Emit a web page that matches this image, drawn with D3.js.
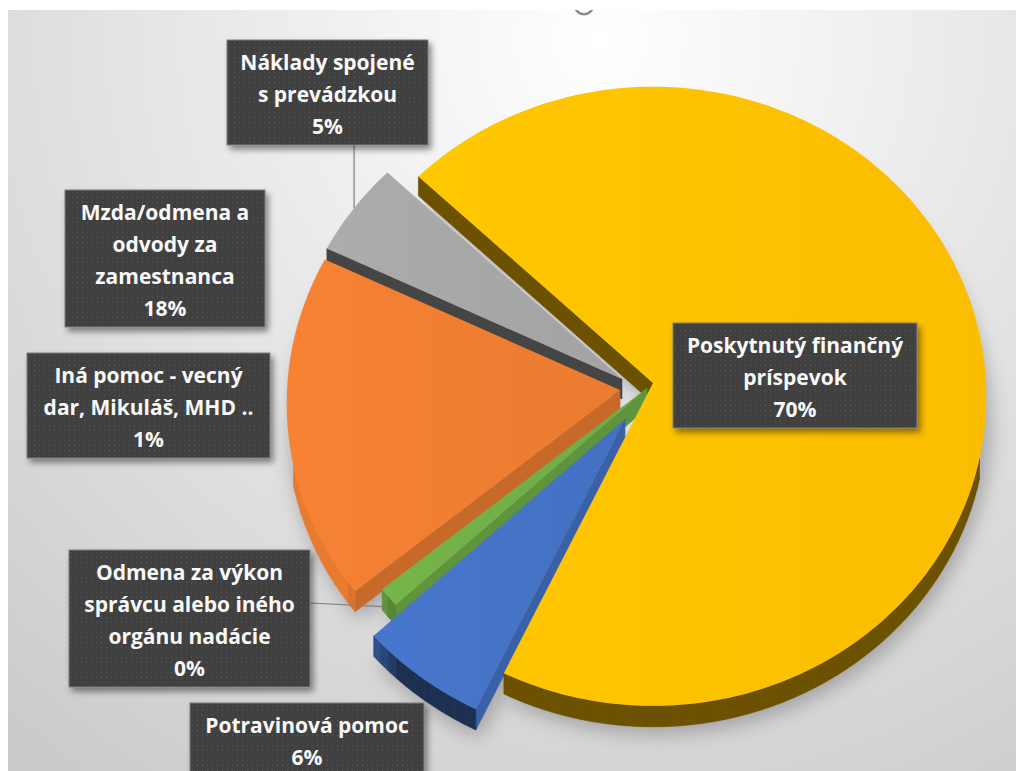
<!DOCTYPE html>
<html>
<head>
<meta charset="utf-8">
<script src="https://cdn.jsdelivr.net/npm/d3@7"></script>
<style>
  html, body { margin: 0; padding: 0; background: #fff; }
  svg { display: block; }
  .lbl text { font-family: "Open Sans", Lato, sans-serif; font-weight: 700; font-size: 21px; fill: #f8f8f8; }
</style>
</head>
<body>
<svg id="chart" width="1016" height="771"></svg>
<script>
// 3D pie (Excel style) - slices go clockwise from the start angle

const categories = [
  'Poskytnutý finančný príspevok',
  'Potravinová pomoc',
  'Odmena za výkon správcu alebo iného orgánu nadácie',
  'Iná pomoc - vecný dar, Mikuláš, MHD ..',
  'Mzda/odmena a odvody za zamestnanca',
  'Náklady spojené s prevádzkou'
];
const shares = [70, 6, 0, 1, 18, 5];
const labelLines = [
  ['Poskytnutý finančný', 'príspevok'],
  ['Potravinová pomoc'],
  ['Odmena za výkon', 'správcu alebo iného', 'orgánu nadácie'],
  ['Iná pomoc - vecný', 'dar, Mikuláš, MHD ..'],
  ['Mzda/odmena a', 'odvody za', 'zamestnanca'],
  ['Náklady spojené', 's prevádzkou']
];
const colors = ['#FFC000', '#4472C4', '#5B9BD5', '#70AD47', '#ED7D31', '#A5A5A5'];

// layout / style
const W = 1016, H = 771;
const center = { x: 620, y: 390 };
const rx = 333, ry = 309, persp = 0.043, depth = 20;
const startDeg = -46.5;
// slice explosion offsets (px), same order as categories
const shift = [[33, -7], [5, 29], [14, 0], [27, -2], [0, 0], [2, -11]];
// label boxes: x, y, width, and leader flag
const boxes = [
  { x: 673, y: 323, w: 244 },
  { x: 190, y: 703, w: 234 },
  { x: 69,  y: 550, w: 241, leader: 'right' },
  { x: 27,  y: 353, w: 243 },
  { x: 65,  y: 190, w: 200 },
  { x: 227, y: 40,  w: 201, leader: 'bottom' }
];
const lineH = 32;

const svg = d3.select('#chart');
const defs = svg.append('defs');

const bg = defs.append('radialGradient').attr('id', 'bg')
  .attr('gradientUnits', 'userSpaceOnUse')
  .attr('cx', 600).attr('cy', 40).attr('r', 900);
bg.append('stop').attr('offset', 0).attr('stop-color', '#ffffff');
bg.append('stop').attr('offset', 0.45).attr('stop-color', '#e8e8e8');
bg.append('stop').attr('offset', 1).attr('stop-color', '#cbcbcb');

defs.append('filter').attr('id', 'blur')
  .attr('x', '-20%').attr('y', '-20%').attr('width', '140%').attr('height', '140%')
  .append('feGaussianBlur').attr('stdDeviation', 10);

const ds = defs.append('filter').attr('id', 'boxShadow')
  .attr('x', '-10%').attr('y', '-10%').attr('width', '130%').attr('height', '140%');
ds.append('feDropShadow').attr('dx', 3).attr('dy', 4).attr('stdDeviation', 3)
  .attr('flood-color', '#000').attr('flood-opacity', 0.45);

const pat = defs.append('pattern').attr('id', 'dots')
  .attr('patternUnits', 'userSpaceOnUse').attr('width', 5).attr('height', 5);
pat.append('rect').attr('width', 5).attr('height', 5).attr('fill', '#3f3f3f');
pat.append('circle').attr('cx', 2.5).attr('cy', 2.5).attr('r', 0.7).attr('fill', '#555');

colors.forEach((c, i) => {
  const g = defs.append('linearGradient').attr('id', 'top' + i)
    .attr('x1', 0).attr('x2', 1).attr('y1', 0).attr('y2', 0);
  g.append('stop').attr('offset', 0).attr('stop-color', d3.color(c).brighter(0.12));
  g.append('stop').attr('offset', 1).attr('stop-color', d3.color(c).darker(0.04));
});

// background
svg.append('rect').attr('x', 8).attr('y', 10).attr('width', W - 8).attr('height', H - 10)
  .attr('fill', 'url(#bg)');

// stray handle at the top
svg.append('path')
  .attr('transform', 'translate(584,5)')
  .attr('d', d3.arc().innerRadius(8).outerRadius(10.5).startAngle(Math.PI * 0.55).endAngle(Math.PI * 1.45)())
  .attr('fill', '#8c8c8c');
svg.append('rect').attr('width', W).attr('height', 10).attr('fill', '#fff');
svg.append('rect').attr('width', 8).attr('height', H).attr('fill', '#fff');

const toRad = d => d * Math.PI / 180;
const a0 = toRad(startDeg);
const arcs = d3.pie().sort(null).value(d => d)
  .startAngle(a0).endAngle(a0 + 2 * Math.PI)(shares);

function proj(a, r, h, s) {
  const X = r * Math.sin(a), Z = -r * Math.cos(a);
  const p = 1 / (1 - persp * Z);
  return [center.x + s[0] + rx * X * p, center.y + s[1] + (ry * Z + h) * p];
}

function arcPts(from, to, h, s) {
  const n = Math.max(2, Math.ceil(Math.abs(to - from) / toRad(1)));
  return d3.range(n + 1).map(i => proj(from + (to - from) * i / n, 1, h, s));
}

function shade(c, k) {
  const q = d3.rgb(c);
  return d3.rgb(q.r * k, q.g * k, q.b * k).formatHex();
}
// radial walls lit from the right, outer rim only brightens when it faces left
const radialK = nx => nx <= 0 ? 0.42 : 0.42 + 0.43 * Math.min(1, nx / 0.65);
const rimK = nx => nx >= -0.65 ? 0.42 : 0.42 + 0.56 * Math.min(1, (-nx - 0.65) / 0.15);

const line = d3.line();
const slices = arcs.map((a, i) => ({ ...a, i, s: shift[i] })).filter(d => d.endAngle - d.startAngle > 1e-6);

// soft shadow under the pie
const shadowG = svg.append('g').attr('filter', 'url(#blur)').attr('opacity', 0.5);
slices.forEach(d => {
  const s = [d.s[0] + 4, d.s[1] + depth + 8];
  const pts = [proj(0, 0, 0, s), ...arcPts(d.startAngle, d.endAngle, 0, s)];
  shadowG.append('path').attr('d', line(pts) + 'Z').attr('fill', '#6a6a6a');
});

// side faces
const faces = [];
const rimFrom = toRad(104), rimTo = toRad(256);
slices.forEach(d => {
  const c = colors[d.i];
  const sa = d.startAngle, ea = d.endAngle;
  if (-Math.sin(sa) > 0) {
    const pts = [proj(0, 0, 0, d.s), proj(sa, 1, 0, d.s), proj(sa, 1, depth, d.s), proj(0, 0, depth, d.s)];
    faces.push({ pts, fill: shade(c, radialK(-Math.cos(sa))) });
  }
  if (Math.sin(ea) > 0) {
    const pts = [proj(0, 0, 0, d.s), proj(ea, 1, 0, d.s), proj(ea, 1, depth, d.s), proj(0, 0, depth, d.s)];
    faces.push({ pts, fill: shade(c, radialK(Math.cos(ea))) });
  }
  const lo = Math.max(sa, rimFrom), hi = Math.min(ea, rimTo);
  const step = toRad(2);
  for (let t = lo; t < hi - 1e-9; t += step) {
    const u = Math.min(hi, t + step);
    const pts = [...arcPts(t, u, 0, d.s), ...arcPts(u, t, depth, d.s)];
    faces.push({ pts, fill: shade(c, rimK(Math.sin((t + u) / 2))) });
  }
});
faces.forEach(f => { f.key = d3.mean(f.pts, p => p[1]); });
faces.sort((a, b) => a.key - b.key);

const pie = svg.append('g');
pie.selectAll('path.side').data(faces).join('path')
  .attr('class', 'side')
  .attr('d', f => line(f.pts) + 'Z')
  .attr('fill', f => f.fill)
  .attr('stroke', f => f.fill).attr('stroke-width', 0.6);

pie.selectAll('path.top').data(slices).join('path')
  .attr('class', 'top')
  .attr('d', d => line([proj(0, 0, 0, d.s), ...arcPts(d.startAngle, d.endAngle, 0, d.s)]) + 'Z')
  .attr('fill', d => `url(#top${d.i})`);

// leader lines
boxes.forEach((b, i) => {
  if (!b.leader) return;
  const a = arcs[i];
  const mid = (a.startAngle + a.endAngle) / 2;
  const tip = proj(mid, 1, 0, shift[i]);
  const h = (labelLines[i].length + 1) * lineH + 9;
  const from = b.leader === 'bottom' ? [tip[0], b.y + h] : [b.x + b.w, b.y + 53];
  svg.append('path').attr('d', line([from, tip]))
    .attr('fill', 'none').attr('stroke', '#7f7f7f').attr('stroke-width', 1.2);
});

// data labels
const lbl = svg.append('g').attr('class', 'lbl');
boxes.forEach((b, i) => {
  const lines = [...labelLines[i], shares[i] + '%'];
  const h = lines.length * lineH + 9;
  const g = lbl.append('g').attr('transform', `translate(${b.x},${b.y})`);
  g.append('rect').attr('width', b.w).attr('height', h)
    .attr('fill', 'url(#dots)').attr('stroke', '#808080').attr('stroke-width', 1)
    .attr('filter', 'url(#boxShadow)');
  g.append('text').attr('text-anchor', 'middle')
    .selectAll('tspan').data(lines).join('tspan')
    .attr('x', b.w / 2).attr('y', (d, k) => 30 + k * lineH)
    .text(d => d);
});
</script>
</body>
</html>
